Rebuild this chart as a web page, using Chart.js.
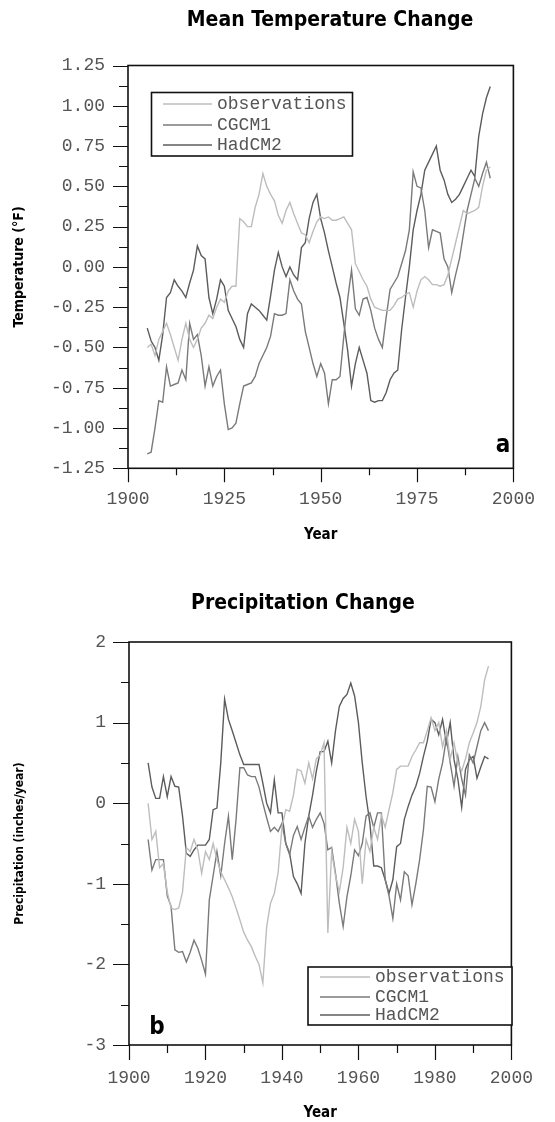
<!DOCTYPE html>
<html>
<head>
<meta charset="utf-8">
<script src="https://cdn.jsdelivr.net/npm/chart.js@4.4.1/dist/chart.umd.min.js"></script>
<style>
  html, body { margin: 0; padding: 0; background: #fff; }
  #page { position: relative; width: 555px; height: 1122px; overflow: hidden; }
  canvas { position: absolute; left: 0; }
  .title {
    position: absolute;
    font-family: "Liberation Sans Narrow", "DejaVu Sans Condensed", sans-serif;
    font-weight: bold;
    font-size: 21px;
    line-height: 21px;
    white-space: nowrap;
    transform: translateX(-50%);
    color: #000;
  }
</style>
</head>
<body>
<div id="page">
  <canvas id="tempChart" width="555" height="561" style="top:0"></canvas>
  <canvas id="precipChart" width="555" height="561" style="top:561px"></canvas>
  <div class="title" style="left:330px;top:9px">Mean Temperature Change</div>
  <div class="title" style="left:303px;top:592px">Precipitation Change</div>
</div>
<script>
// years 1905-1994
const years = [
  1905, 1906, 1907, 1908, 1909, 1910, 1911, 1912, 1913, 1914,
  1915, 1916, 1917, 1918, 1919, 1920, 1921, 1922, 1923, 1924,
  1925, 1926, 1927, 1928, 1929, 1930, 1931, 1932, 1933, 1934,
  1935, 1936, 1937, 1938, 1939, 1940, 1941, 1942, 1943, 1944,
  1945, 1946, 1947, 1948, 1949, 1950, 1951, 1952, 1953, 1954,
  1955, 1956, 1957, 1958, 1959, 1960, 1961, 1962, 1963, 1964,
  1965, 1966, 1967, 1968, 1969, 1970, 1971, 1972, 1973, 1974,
  1975, 1976, 1977, 1978, 1979, 1980, 1981, 1982, 1983, 1984,
  1985, 1986, 1987, 1988, 1989, 1990, 1991, 1992, 1993, 1994
];

// panel a, temperature (°F)
const tempObs = [
  -0.50, -0.48, -0.55, -0.45, -0.40, -0.35, -0.42, -0.50, -0.58, -0.45,
  -0.35, -0.45, -0.50, -0.45, -0.38, -0.35, -0.30, -0.32, -0.25, -0.20,
  -0.22, -0.15, -0.12, -0.12, 0.30, 0.28, 0.25, 0.25, 0.37, 0.45,
  0.58, 0.50, 0.45, 0.41, 0.32, 0.27, 0.35, 0.40, 0.33, 0.27,
  0.21, 0.20, 0.15, 0.22, 0.28, 0.31, 0.30, 0.31, 0.29, 0.29,
  0.30, 0.31, 0.27, 0.23, 0.02, -0.03, -0.08, -0.12, -0.20, -0.25,
  -0.26, -0.27, -0.27, -0.27, -0.24, -0.20, -0.19, -0.17, -0.16, -0.25,
  -0.15, -0.08, -0.06, -0.08, -0.11, -0.11, -0.12, -0.11, -0.05, 0.05,
  0.15, 0.25, 0.35, 0.33, 0.34, 0.35, 0.37, 0.50, 0.60, 0.62
];
const tempCGCM1 = [
  -1.16, -1.15, -1.00, -0.83, -0.84, -0.62, -0.74, -0.73, -0.72, -0.64,
  -0.70, -0.35, -0.45, -0.42, -0.55, -0.74, -0.62, -0.74, -0.68, -0.64,
  -0.85, -1.01, -1.00, -0.97, -0.85, -0.74, -0.73, -0.72, -0.68, -0.60,
  -0.55, -0.50, -0.43, -0.29, -0.30, -0.30, -0.29, -0.08, -0.15, -0.20,
  -0.23, -0.40, -0.50, -0.60, -0.68, -0.60, -0.66, -0.85, -0.70, -0.70,
  -0.68, -0.43, -0.20, -0.02, -0.26, -0.30, -0.20, -0.19, -0.27, -0.38,
  -0.45, -0.50, -0.31, -0.14, -0.10, -0.06, 0.02, 0.10, 0.23, 0.59,
  0.50, 0.49, 0.35, 0.12, 0.23, 0.22, 0.21, 0.05, 0.00, -0.16,
  -0.05, 0.05, 0.20, 0.35, 0.45, 0.55, 0.50, 0.58, 0.65, 0.55
];
const tempHadCM2 = [
  -0.38, -0.46, -0.50, -0.58, -0.42, -0.19, -0.16, -0.08, -0.12, -0.15,
  -0.19, -0.10, -0.02, 0.13, 0.07, 0.05, -0.19, -0.29, -0.20, -0.08,
  -0.12, -0.27, -0.32, -0.37, -0.45, -0.50, -0.29, -0.23, -0.25, -0.27,
  -0.30, -0.33, -0.18, -0.02, 0.09, 0.00, -0.06, 0.00, -0.05, -0.08,
  0.12, 0.15, 0.30, 0.40, 0.45, 0.30, 0.21, 0.10, 0.00, -0.10,
  -0.19, -0.35, -0.52, -0.74, -0.60, -0.50, -0.58, -0.66, -0.83, -0.84,
  -0.83, -0.83, -0.78, -0.70, -0.66, -0.64, -0.39, -0.19, 0.00, 0.23,
  0.35, 0.45, 0.60, 0.65, 0.70, 0.75, 0.60, 0.54, 0.45, 0.40,
  0.42, 0.45, 0.50, 0.55, 0.60, 0.56, 0.81, 0.95, 1.05, 1.12
];

// panel b, precipitation (inches/year)
const precipObs = [
  0.00, -0.45, -0.35, -0.80, -0.75, -1.10, -1.30, -1.32, -1.30, -1.10,
  -0.55, -0.60, -0.45, -0.58, -0.87, -0.60, -0.70, -0.50, -0.70, -0.85,
  -0.95, -1.05, -1.16, -1.30, -1.45, -1.60, -1.70, -1.78, -1.90, -2.00,
  -2.23, -1.53, -1.24, -1.12, -0.86, -0.30, -0.08, -0.10, 0.10, 0.42,
  0.40, 0.25, 0.50, 0.30, 0.55, 0.60, 0.75, -1.61, -0.60, -0.90,
  -1.10, -0.80, -0.30, -0.50, -0.20, -0.35, -1.00, -0.45, -0.60, -0.30,
  -0.45, -0.15, -0.30, -0.08, 0.13, 0.42, 0.46, 0.46, 0.46, 0.58,
  0.66, 0.75, 0.75, 0.90, 1.06, 0.90, 1.00, 0.70, 0.90, 0.55,
  0.75, 0.50, 0.40, 0.55, 0.75, 0.87, 1.00, 1.20, 1.53, 1.70
];
const precipCGCM1 = [
  -0.45, -0.83, -0.70, -0.70, -0.70, -1.15, -1.28, -1.82, -1.85, -1.84,
  -1.97, -1.85, -1.70, -1.80, -1.95, -2.12, -1.20, -0.90, -0.60, -0.90,
  -0.50, -0.16, -0.70, -0.20, 0.44, 0.44, 0.35, 0.33, 0.33, 0.20,
  0.00, -0.18, -0.35, -0.30, -0.35, -0.25, -0.50, -0.64, -0.40, -0.29,
  -0.45, -0.30, -0.16, -0.30, -0.20, -0.12, -0.25, -0.58, -0.55, -0.87,
  -1.24, -1.53, -1.16, -0.90, -0.58, -0.65, -0.50, -0.16, -0.12, -0.30,
  -0.12, -0.12, -0.95, -1.15, -1.43, -1.00, -1.20, -0.85, -0.90, -1.26,
  -1.00, -0.70, -0.33, 0.21, 0.20, 0.02, 0.30, 0.50, 0.81, 0.50,
  0.21, 0.58, 0.30, 0.10, 0.60, 0.50, 0.70, 0.90, 1.00, 0.90
];
const precipHadCM2 = [
  0.50, 0.20, 0.06, 0.06, 0.33, 0.08, 0.33, 0.21, 0.20, -0.16,
  -0.62, -0.66, -0.58, -0.52, -0.52, -0.52, -0.45, -0.08, -0.06, 0.50,
  1.29, 1.04, 0.90, 0.75, 0.60, 0.48, 0.48, 0.48, 0.48, 0.48,
  0.25, 0.00, -0.12, 0.29, -0.12, -0.12, -0.50, -0.62, -0.91, -1.00,
  -1.12, -0.50, -0.16, 0.10, 0.40, 0.64, 0.64, 0.77, 0.50, 0.90,
  1.20, 1.30, 1.35, 1.49, 1.33, 1.00, 0.50, 0.08, -0.25, -0.78,
  -0.78, -0.80, -0.95, -1.12, -0.95, -0.54, -0.50, -0.20, -0.04, 0.10,
  0.21, 0.37, 0.58, 0.77, 1.04, 1.00, 0.85, 1.04, 0.75, 1.00,
  0.54, 0.30, -0.05, 0.42, 0.54, 0.58, 0.31, 0.45, 0.58, 0.55
];

const seriesNames = ['observations', 'CGCM1', 'HadCM2'];
const seriesColors = ['#bdbdbd', '#7a7a7a', '#5c5c5c'];

const monoFont = '"Courier New", "Liberation Mono", monospace';
const narrowFont = '"Liberation Sans Narrow", "DejaVu Sans Condensed", sans-serif';

function toPoints(values) {
  return values.map(function(v, i) { return {x: years[i], y: v}; });
}

function isMultiple(v, step) {
  let r = v / step;
  return Math.abs(r - Math.round(r)) < 1e-6;
}

// frame round the plot plus major/minor tick marks outside it
const frameTicks = {
  id: 'frameTicks',
  afterDraw(chart, args, o) {
    let ctx = chart.ctx, a = chart.chartArea;
    let x = chart.scales.x, y = chart.scales.y;
    ctx.save();
    ctx.strokeStyle = '#111';
    ctx.lineWidth = 1.2;
    ctx.beginPath();
    for (let v = x.min; v <= x.max + 1e-6; v += o.xMinor) {
      let px = Math.round(x.getPixelForValue(v)) + 0.5;
      ctx.moveTo(px, a.bottom);
      ctx.lineTo(px, a.bottom + (isMultiple(v - x.min, o.xMajor) ? o.xMajorLen : o.xMinorLen));
    }
    for (let v = y.min; v <= y.max + 1e-6; v += o.yMinor) {
      let py = Math.round(y.getPixelForValue(v)) + 0.5;
      ctx.moveTo(a.left, py);
      ctx.lineTo(a.left - (isMultiple(v - y.min, o.yMajor) ? o.yMajorLen : o.yMinorLen), py);
    }
    ctx.stroke();
    ctx.lineWidth = 1.6;
    ctx.strokeRect(a.left, a.top, a.right - a.left, a.bottom - a.top);
    ctx.restore();
  }
};

// boxed legend drawn inside the plot
const boxLegend = {
  id: 'boxLegend',
  afterDraw(chart, args, o) {
    let ctx = chart.ctx;
    let b = o.box;
    ctx.save();
    ctx.fillStyle = '#fff';
    ctx.fillRect(b[0], b[1], b[2] - b[0], b[3] - b[1]);
    ctx.font = o.fontSize + 'px ' + monoFont;
    ctx.textBaseline = 'middle';
    chart.data.datasets.forEach(function(ds, i) {
      let ry = o.rows[i];
      ctx.strokeStyle = ds.borderColor;
      ctx.lineWidth = 1.4;
      ctx.beginPath();
      ctx.moveTo(o.lineFrom, ry);
      ctx.lineTo(o.lineTo, ry);
      ctx.stroke();
      ctx.fillStyle = '#555';
      ctx.fillText(ds.label, o.textX, ry);
    });
    ctx.strokeStyle = '#111';
    ctx.lineWidth = 1.6;
    ctx.strokeRect(b[0], b[1], b[2] - b[0], b[3] - b[1]);
    ctx.restore();
  }
};

const panelLetter = {
  id: 'panelLetter',
  afterDraw(chart, args, o) {
    let ctx = chart.ctx;
    ctx.save();
    ctx.font = 'bold 24px ' + narrowFont;
    ctx.fillStyle = '#000';
    ctx.textAlign = 'center';
    ctx.textBaseline = 'middle';
    ctx.fillText(o.text, o.x, o.y);
    ctx.restore();
  }
};

function makeChart(id, p) {
  let datasets = p.series.map(function(values, i) {
    return {
      label: seriesNames[i],
      data: toPoints(values),
      borderColor: seriesColors[i],
      borderWidth: 1.4,
      pointRadius: 0,
      tension: 0,
      fill: false
    };
  });
  return new Chart(document.getElementById(id), {
    type: 'line',
    data: {datasets: datasets},
    options: {
      responsive: false,
      animation: false,
      layout: {padding: {top: p.top, right: p.right, bottom: 0, left: 0}},
      plugins: {
        legend: {display: false},
        tooltip: {enabled: false},
        frameTicks: p.ticks,
        boxLegend: p.legend,
        panelLetter: p.letter
      },
      scales: {
        x: {
          type: 'linear',
          min: 1900,
          max: 2000,
          grid: {display: false, drawTicks: false},
          border: {display: false},
          afterFit: function(s) { s.height = p.xHeight; },
          ticks: {
            stepSize: p.xStep,
            padding: p.xPad,
            maxRotation: 0,
            color: '#555',
            font: {family: monoFont, size: 18},
            callback: function(v) { return String(v); }
          },
          title: {
            display: true,
            text: 'Year',
            color: '#000',
            font: {family: narrowFont, size: 15, weight: 'bold'},
            padding: {top: 0, bottom: p.xTitlePad}
          }
        },
        y: {
          min: p.yMin,
          max: p.yMax,
          grid: {display: false, drawTicks: false},
          border: {display: false},
          afterFit: function(s) { s.width = p.yWidth; },
          ticks: {
            stepSize: p.yStep,
            padding: 23,
            color: '#555',
            font: {family: monoFont, size: 18},
            callback: p.yFormat
          },
          title: {
            display: true,
            text: p.yTitle,
            color: '#000',
            font: {family: narrowFont, size: p.yTitleSize, weight: 'bold'},
            padding: {top: p.yTitlePad, bottom: 0}
          }
        }
      }
    },
    plugins: [frameTicks, boxLegend, panelLetter]
  });
}

makeChart('tempChart', {
  series: [tempObs, tempCGCM1, tempHadCM2],
  top: 65.5, right: 24, xHeight: 92.7, yWidth: 128,
  xStep: 25, xPad: 20, xTitlePad: 17,
  yMin: -1.25, yMax: 1.25, yStep: 0.25,
  yFormat: function(v) { return v.toFixed(2); },
  yTitle: 'Temperature (°F)', yTitlePad: 11, yTitleSize: 14,
  ticks: {xMinor: 12.5, xMajor: 25, xMajorLen: 14, xMinorLen: 7,
          yMinor: 0.125, yMajor: 0.25, yMajorLen: 15, yMinorLen: 9},
  legend: {box: [151.5, 92.5, 352.5, 156], rows: [104, 125, 145],
           lineFrom: 163, lineTo: 212, textX: 217, fontSize: 18},
  letter: {text: 'a', x: 503, y: 446}
});

makeChart('precipChart', {
  series: [precipObs, precipCGCM1, precipHadCM2],
  top: 81, right: 22, xHeight: 77, yWidth: 129,
  xStep: 20, xPad: 22, xTitlePad: 0,
  yMin: -3, yMax: 2, yStep: 1,
  yFormat: function(v) { return String(v); },
  yTitle: 'Precipitation (inches/year)', yTitlePad: 13, yTitleSize: 12,
  ticks: {xMinor: 10, xMajor: 20, xMajorLen: 15, xMinorLen: 8,
          yMinor: 0.5, yMajor: 1, yMajorLen: 16, yMinorLen: 8},
  legend: {box: [308, 406, 512, 464], rows: [416, 436, 454],
           lineFrom: 320, lineTo: 370, textX: 375, fontSize: 18},
  letter: {text: 'b', x: 157, y: 467}
});
</script>
</body>
</html>
